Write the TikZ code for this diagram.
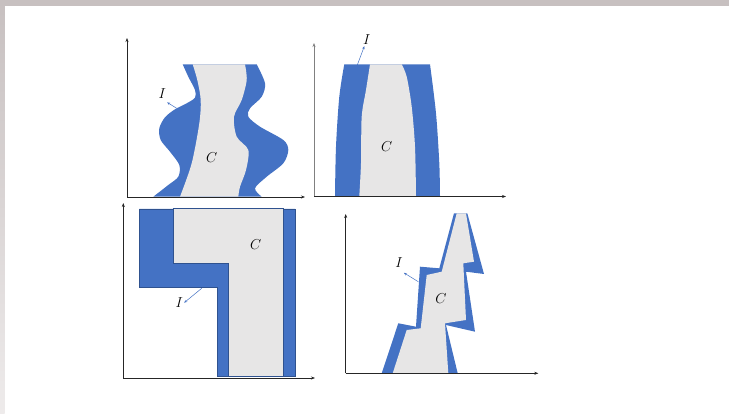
\documentclass[tikz,border=0pt]{standalone}
\usetikzlibrary{arrows.meta}
\definecolor{bandblue}{HTML}{4472C4}
\definecolor{coregray}{HTML}{E7E6E6}
\definecolor{edgeblue}{HTML}{2F528F}
\definecolor{framegray}{HTML}{C7C0C0}
\definecolor{framelight}{HTML}{EEEBEB}
\begin{document}
\begin{tikzpicture}[x=1pt, y=-1pt,
    axis/.style={-{Stealth[length=4pt,width=3pt]}, line width=0.6pt, black!85},
    band/.style={fill=bandblue},
    core/.style={fill=coregray},
    lbl/.style={font=\fontsize{14}{14}\selectfont, inner sep=1pt},
    pointer/.style={-{Stealth[length=3pt,width=2.5pt]}, bandblue, line width=0.5pt}]

    % page frame
    \fill[white] (0,0) rectangle (729,414);
    \shade[top color=framegray, bottom color=framelight] (0,0) rectangle (4.5,414);
    \fill[framegray] (0,0) rectangle (729,6);

    % panel 1: wavy band
    \fill[band] plot[smooth] coordinates {(182.7,64.3) (188.3,76.7) (195,90) (195,97.7) (186.7,103.3) (175,109.3) (165,117.3) (159.3,128.3) (160.7,140) (170,151.7) (179.3,165) (178.3,176.7) (168.3,185) (153.3,196.7)}
        -- plot[smooth] coordinates {(261.7,196.7) (255,188.3) (266.7,176.7) (283.3,163.3) (288.3,150) (283.3,140) (260,126.7) (248.3,116.7) (250,108.3) (261.7,96.7) (265,83.3) (256.7,64.3)} -- cycle;
    \fill[core] plot[smooth] coordinates {(192.7,64.3) (197.3,80) (200.7,100) (199.3,123.3) (191.7,163.3) (180,196.7)}
        -- plot[smooth] coordinates {(238.3,196.7) (240,186.7) (246,170) (248.3,150) (236.7,136.7) (234,116.7) (241.7,100) (246.7,80) (245,64.3)} -- cycle;
    \coordinate (o1) at (127,197); \coordinate (y1) at (127,38); \coordinate (x1) at (305,197);
    \draw[axis] (o1) -- (y1);
    \draw[axis] (o1) -- (x1);
    \node[lbl] (i1) at (162.3,93.3) {$I$};
    \node[lbl] (c1) at (211.7,157.3) {$C$};
    \coordinate (t1) at (176.7,108.3);
    \draw[pointer] (t1) -- ([yshift=-3pt]i1.south east);

    % panel 2: bent band
    \fill[band] plot[smooth] coordinates {(344.3,64.3) (339.3,96.7) (336,146.7) (335,196)}
        -- plot[smooth] coordinates {(440,196) (439.3,163.3) (436,113.3) (430,64.3)} -- cycle;
    \fill[core] plot[smooth] coordinates {(370,64.3) (366,90) (361.7,116.7) (361,163.3) (359.3,196)}
        -- plot[smooth] coordinates {(416,196) (415,146.7) (411.7,106.7) (406.7,76.7) (401.7,64.3)} -- cycle;
    \coordinate (o2) at (314,196.5); \coordinate (y2) at (314,43); \coordinate (x2) at (506,196.5);
    \draw[axis, gray] (o2) -- (y2);
    \draw[axis] (o2) -- (x2);
    \node[lbl] (i2) at (366.7,40) {$I$};
    \node[lbl] (c2) at (386.7,146.7) {$C$};
    \coordinate (t2) at (357.3,65);
    \draw[pointer] (t2) -- (i2);

    % panel 3: L shape
    \filldraw[band, draw=edgeblue, line width=0.4pt] (139.3,209) -- (295,209) -- (295,376) -- (217.3,376) -- (217.3,287.3) -- (139.3,287.3) -- cycle;
    \filldraw[core, draw=edgeblue, line width=0.6pt] (173.3,208.3) -- (283.3,208.3) -- (283.3,376) -- (228.7,376) -- (228.7,263.3) -- (173.3,263.3) -- cycle;
    \coordinate (o3) at (123.3,378); \coordinate (y3) at (123.3,203); \coordinate (x3) at (315,378);
    \draw[axis] (o3) -- (y3);
    \draw[axis] (o3) -- (x3);
    \node[lbl] (i3) at (179.3,302.7) {$I$};
    \node[lbl] (c3) at (255.7,245) {$C$};
    \coordinate (t3) at (201.7,288.3);
    \draw[pointer] (t3) -- (i3.east);

    % panel 4: jagged spike
    \fill[band] (381.7,373.3) -- (398.3,323.3) -- (416,326.7) -- (420,266.7) -- (439.3,268.3) -- (454,213.3) -- (467.3,213.3) -- (484,274) -- (466,271.7) -- (475,331.7) -- (446,325) -- (457.7,373.3) -- cycle;
    \fill[core] (392.7,373.3) -- (406.7,330) -- (420.7,328.3) -- (426.7,275) -- (441.7,271.7) -- (456.7,213.3) -- (466,213.3) -- (474,261.7) -- (463.3,263.3) -- (466,320) -- (445,323.3) -- (448.3,373.3) -- cycle;
    \coordinate (o4) at (345.7,373.3); \coordinate (y4) at (345.7,214); \coordinate (x4) at (538.3,373.3);
    \draw[axis] (o4) -- (y4);
    \draw[axis] (o4) -- (x4);
    \node[lbl] (i4) at (399,262.7) {$I$};
    \node[lbl] (c4) at (441,298.3) {$C$};
    \coordinate (t4) at (418.3,281.7);
    \draw[pointer] (t4) -- ([yshift=-4pt]i4.south east);
\end{tikzpicture}
\end{document}
